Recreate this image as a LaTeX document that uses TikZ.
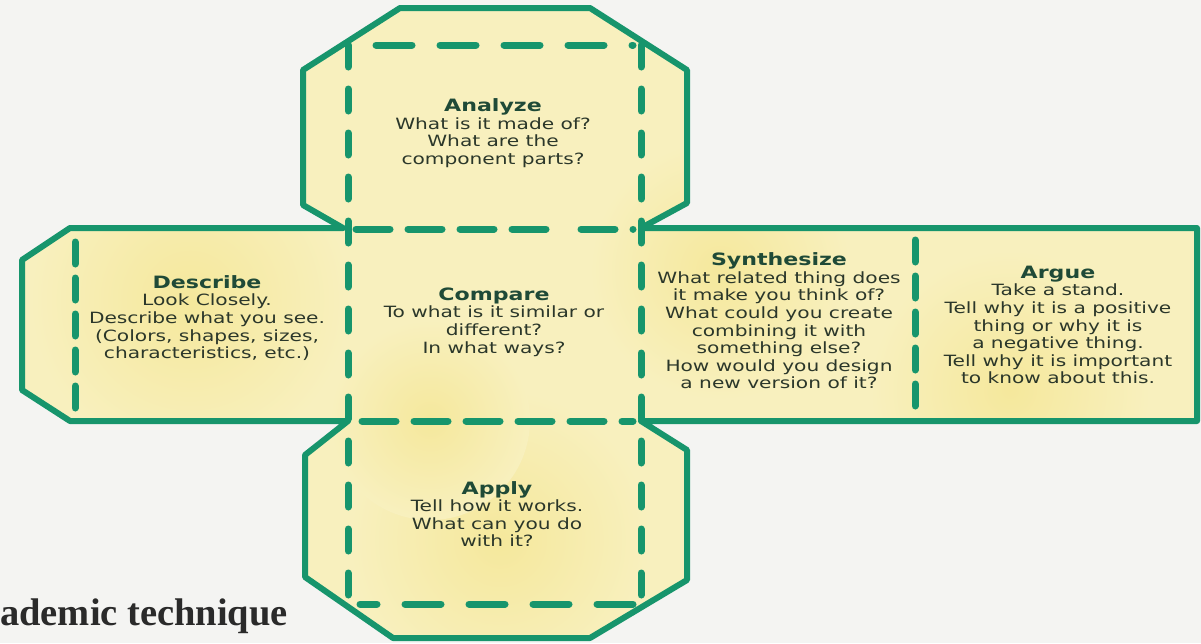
\documentclass[tikz,border=0pt]{standalone}
\usepackage{fontspec}
\newfontfamily\bodyfont[FakeStretch=1.3]{DejaVu Sans}
\newfontfamily\capfont{Liberation Serif}
\definecolor{cubegreen}{HTML}{17956C}
\definecolor{paper}{HTML}{F4F4F2}
\definecolor{cardfill}{HTML}{F8F0BE}
\definecolor{carddeep}{HTML}{F5E89C}
\definecolor{headcol}{HTML}{1F4A37}
\definecolor{bodycol}{HTML}{2B372A}
\definecolor{capcol}{HTML}{2A2A2A}
\tikzset{
  outline/.style={draw=cubegreen, line width=6pt, line join=round},
  fold/.style={draw=cubegreen, line width=7pt, line cap=round},
  foldwide/.style={fold, dash pattern=on 36pt off 28pt},
  foldmid/.style={fold, dash pattern=on 34pt off 18pt},
  foldvert/.style={fold, dash pattern=on 22pt off 22pt},
  foldtight/.style={fold, dash pattern=on 22pt off 14pt},
  facetext/.style={align=center, text=bodycol, inner sep=0pt,
    font=\bodyfont\fontsize{15.5}{17.6}\selectfont},
}
\newcommand{\facehead}[1]{{\fontsize{17}{18}\selectfont\bfseries\color{headcol}#1}}
\newcommand{\cardpath}{(400,8) -- (590,8) -- (687,70) -- (687,203) -- (641,228) -- (1197,228) -- (1197,421) -- (641,421) -- (687,450) -- (687,580) -- (590,638) -- (393,638) -- (305,577) -- (305,455) -- (348,421) -- (70,421) -- (22,390) -- (22,260) -- (70,228) -- (343,228) -- (303,205) -- (303,70) -- cycle}
\begin{document}
\begin{tikzpicture}[x=1pt,y=-1pt]
\useasboundingbox (0,0) rectangle (1201,643);
\fill[paper] (0,0) rectangle (1201,643);
% card body
\path[fill=cardfill] \cardpath;
\begin{scope}
\clip \cardpath;
\shade[inner color=carddeep, outer color=cardfill] (190,300) circle (160);
\shade[inner color=carddeep, outer color=cardfill] (500,540) circle (150);
\shade[inner color=carddeep, outer color=cardfill] (720,270) circle (130);
\shade[inner color=carddeep, outer color=cardfill] (1010,390) circle (140);
\shade[inner color=carddeep, outer color=cardfill] (430,420) circle (100);
\end{scope}
\path[outline] \cardpath;
% fold lines
\coordinate (tl) at (348,45);
\coordinate (tr) at (641,45);
\coordinate (ml) at (348,229);
\coordinate (mr) at (641,229);
\coordinate (bl) at (348,421);
\coordinate (br) at (641,421);
\coordinate (el) at (348,604);
\coordinate (er) at (641,604);
\coordinate (dt) at (75,242);
\coordinate (db) at (75,410);
\coordinate (st) at (915,240);
\coordinate (sb) at (915,410);
\draw[foldwide] ([xshift=28pt]tl) -- ([xshift=-8pt]tr);
\draw[foldmid] ([xshift=-95pt]mr) -- ([xshift=8pt]ml);
\draw[foldmid] ([xshift=14pt]bl) -- ([xshift=-8pt]br);
\draw[foldwide] ([xshift=-8pt]er) -- ([xshift=12pt]el);
\draw[foldmid] ([xshift=-60pt]mr) -- ([xshift=-8pt]mr);
\draw[foldvert] (tl) -- (el);
\draw[foldvert] (tr) -- (er);
\draw[foldtight] (dt) -- (db);
\draw[foldtight] (st) -- (sb);
% texts
\node[facetext] (analyze) at (493,133) {\facehead{Analyze}\\What is it made of?\\What are the\\component parts?};
\node[facetext] (describe) at (207,318) {\facehead{Describe}\\Look Closely.\\Describe what you see.\\(Colors, shapes, sizes,\\characteristics, etc.)};
\node[facetext] (compare) at (494,322) {\facehead{Compare}\\To what is it similar or\\different?\\In what ways?};
\node[facetext] (synth) at (779,321) {\facehead{Synthesize}\\What related thing does\\it make you think of?\\What could you create\\combining it with\\something else?\\How would you design\\a new version of it?};
\node[facetext] (argue) at (1058,325) {\facehead{Argue}\\Take a stand.\\Tell why it is a positive\\thing or why it is\\a negative thing.\\Tell why it is important\\to know about this.};
\node[facetext] (apply) at (497,514) {\facehead{Apply}\\Tell how it works.\\What can you do\\with it?};
\node[anchor=base west, inner sep=0pt, text=capcol, font=\capfont\bfseries\fontsize{38.5}{40}\selectfont] (caption) at (0,625) {ademic technique};
\end{tikzpicture}
\end{document}
